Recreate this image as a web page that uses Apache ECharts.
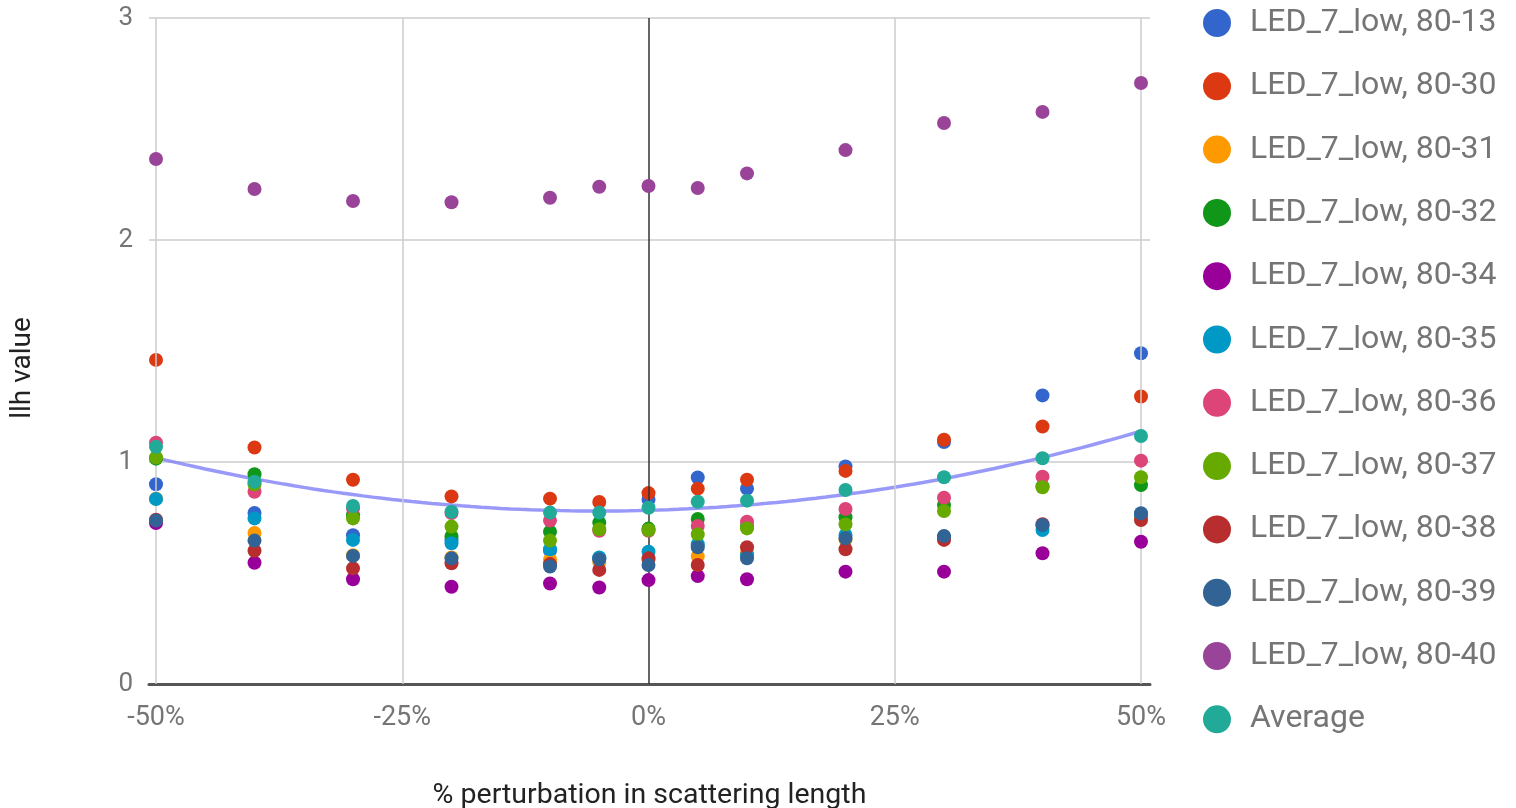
<!DOCTYPE html>
<html>
<head>
<meta charset="utf-8">
<title>llh value vs scattering length perturbation</title>
<script src="https://cdn.jsdelivr.net/npm/echarts@6/dist/echarts.min.js"></script>
<style>
  html, body { margin: 0; padding: 0; background: #ffffff; }
  #chart { width: 1516px; height: 808px; }
</style>
</head>
<body>
<div id="chart"></div>
<script>
// Perturbation of the scattering length, in percent
const perturbation = [-50, -40, -30, -20, -10, -5, 0, 5, 10, 20, 30, 40, 50];

// llh value per detector module
const led_80_13 = [0.90, 0.77, 0.67, 0.65, 0.60, 0.565, 0.83, 0.93, 0.88, 0.98, 1.09, 1.30, 1.49];
const led_80_30 = [1.46, 1.065, 0.92, 0.845, 0.835, 0.82, 0.86, 0.88, 0.92, 0.96, 1.10, 1.16, 1.295];
const led_80_31 = [0.835, 0.68, 0.58, 0.57, 0.56, 0.55, 0.56, 0.575, 0.59, 0.65, 0.66, 0.71, 0.75];
const led_80_32 = [1.015, 0.945, 0.76, 0.665, 0.686, 0.727, 0.70, 0.743, 0.71, 0.751, 0.806, 0.89, 0.896];
const led_80_34 = [0.725, 0.546, 0.472, 0.438, 0.453, 0.435, 0.468, 0.486, 0.472, 0.506, 0.506, 0.589, 0.641];
const led_80_35 = [0.833, 0.746, 0.649, 0.634, 0.607, 0.57, 0.596, 0.63, 0.58, 0.671, 0.66, 0.694, 0.76];
const led_80_36 = [1.087, 0.866, 0.79, 0.77, 0.736, 0.69, 0.69, 0.712, 0.731, 0.788, 0.839, 0.934, 1.006];
const led_80_37 = [1.02, 0.90, 0.746, 0.709, 0.646, 0.697, 0.694, 0.674, 0.701, 0.719, 0.779, 0.886, 0.931];
const led_80_38 = [0.74, 0.60, 0.521, 0.544, 0.54, 0.514, 0.566, 0.536, 0.616, 0.607, 0.649, 0.72, 0.739];
const led_80_39 = [0.736, 0.646, 0.577, 0.566, 0.529, 0.562, 0.536, 0.616, 0.566, 0.656, 0.667, 0.716, 0.769];
const led_80_40 = [2.365, 2.23, 2.176, 2.17, 2.19, 2.24, 2.243, 2.234, 2.30, 2.405, 2.527, 2.577, 2.707];
const average   = [1.069, 0.911, 0.802, 0.776, 0.772, 0.772, 0.794, 0.821, 0.826, 0.874, 0.931, 1.017, 1.117];

const xTicks = [-50, -25, 0, 25, 50];

const seriesList = [
  { name: 'LED_7_low, 80-13', values: led_80_13, color: '#3366cc' },
  { name: 'LED_7_low, 80-30', values: led_80_30, color: '#dc3912' },
  { name: 'LED_7_low, 80-31', values: led_80_31, color: '#ff9900' },
  { name: 'LED_7_low, 80-32', values: led_80_32, color: '#109618' },
  { name: 'LED_7_low, 80-34', values: led_80_34, color: '#990099' },
  { name: 'LED_7_low, 80-35', values: led_80_35, color: '#0099c6' },
  { name: 'LED_7_low, 80-36', values: led_80_36, color: '#dd4477' },
  { name: 'LED_7_low, 80-37', values: led_80_37, color: '#66aa00' },
  { name: 'LED_7_low, 80-38', values: led_80_38, color: '#b82e2e' },
  { name: 'LED_7_low, 80-39', values: led_80_39, color: '#316395' },
  { name: 'LED_7_low, 80-40', values: led_80_40, color: '#994499' },
  { name: 'Average', values: average, color: '#22aa99' }
];

// Least-squares quadratic fit of the average (trend line)
function quadFit(xs, ys) {
  const n = xs.length;
  const s = [0, 0, 0, 0, 0], t = [0, 0, 0];
  for (let i = 0; i < n; i++) {
    const x = xs[i], y = ys[i];
    let p = 1;
    for (let k = 0; k < 5; k++) { s[k] += p; if (k < 3) t[k] += p * y; p *= x; }
  }
  const A = [[s[0], s[1], s[2], t[0]], [s[1], s[2], s[3], t[1]], [s[2], s[3], s[4], t[2]]];
  for (let c = 0; c < 3; c++) {
    for (let r = c + 1; r < 3; r++) {
      const f = A[r][c] / A[c][c];
      for (let k = c; k < 4; k++) A[r][k] -= f * A[c][k];
    }
  }
  const coef = [0, 0, 0];
  for (let r = 2; r >= 0; r--) {
    let v = A[r][3];
    for (let k = r + 1; k < 3; k++) v -= A[r][k] * coef[k];
    coef[r] = v / A[r][r];
  }
  return coef;
}
const trendCoef = quadFit(perturbation, average);
const trendPoints = [];
for (let x = perturbation[0]; x <= perturbation[perturbation.length - 1]; x += 1) {
  trendPoints.push([x, trendCoef[0] + trendCoef[1] * x + trendCoef[2] * x * x]);
}

const FONT = 'Roboto, "Noto Sans", sans-serif';

const series = [
  {
    name: 'trend',
    type: 'line',
    data: trendPoints,
    showSymbol: false,
    silent: true,
    z: 1,
    lineStyle: { color: '#8080f8', width: 3.5, opacity: 0.8 },
    markLine: {
      silent: true,
      symbol: 'none',
      label: { show: false },
      animation: false,
      data: xTicks.map(v => ({
        xAxis: v,
        lineStyle: { color: v === 0 ? '#333333' : '#cccccc', width: 1.5, type: 'solid' }
      }))
    }
  }
].concat(seriesList.map((s, i) => ({
  name: s.name,
  type: 'scatter',
  data: perturbation.map((x, j) => [x, s.values[j]]),
  symbol: 'circle',
  symbolSize: 14,
  z: 3 + i,
  itemStyle: { color: s.color, opacity: 1 }
})));

const chart = echarts.init(document.getElementById('chart'), null, { renderer: 'canvas' });
chart.setOption({
  animation: false,
  backgroundColor: '#ffffff',
  grid: { left: 149, right: 366, top: 18, bottom: 124, containLabel: false, outerBoundsMode: 'none' },
  xAxis: {
    type: 'value',
    min: -50.711,
    max: 50.913,
    name: '% perturbation in scattering length',
    nameLocation: 'middle',
    nameGap: 97,
    nameTextStyle: { fontFamily: FONT, fontSize: 28.5, color: '#222222' },
    axisLine: { show: true, onZero: false, lineStyle: { color: '#555555', width: 3 } },
    axisTick: { show: false },
    splitLine: { show: false },
    axisLabel: {
      customValues: xTicks,
      formatter: v => v + '%',
      fontFamily: FONT,
      fontSize: 27,
      color: '#757575',
      margin: 21
    }
  },
  yAxis: {
    type: 'value',
    min: 0,
    max: 3,
    interval: 1,
    name: 'llh value',
    nameLocation: 'middle',
    nameGap: 112,
    nameTextStyle: { fontFamily: FONT, fontSize: 28, color: '#222222', padding: [0, 34, 0, 0] },
    axisLine: { show: false },
    axisTick: { show: false },
    splitLine: { show: true, lineStyle: { color: '#cccccc', width: 1.5 } },
    axisLabel: {
      formatter: v => String(v),
      fontFamily: FONT,
      fontSize: 26,
      color: '#757575',
      margin: 16
    }
  },
  legend: {
    orient: 'vertical',
    left: 1198,
    top: 2,
    itemWidth: 28,
    itemHeight: 28,
    itemGap: 31.3,
    icon: 'circle',
    data: seriesList.map(s => s.name),
    textStyle: { fontFamily: FONT, fontSize: 32, color: '#757575', padding: [0, 0, 0, 14] }
  },
  series: series
});
</script>
</body>
</html>
